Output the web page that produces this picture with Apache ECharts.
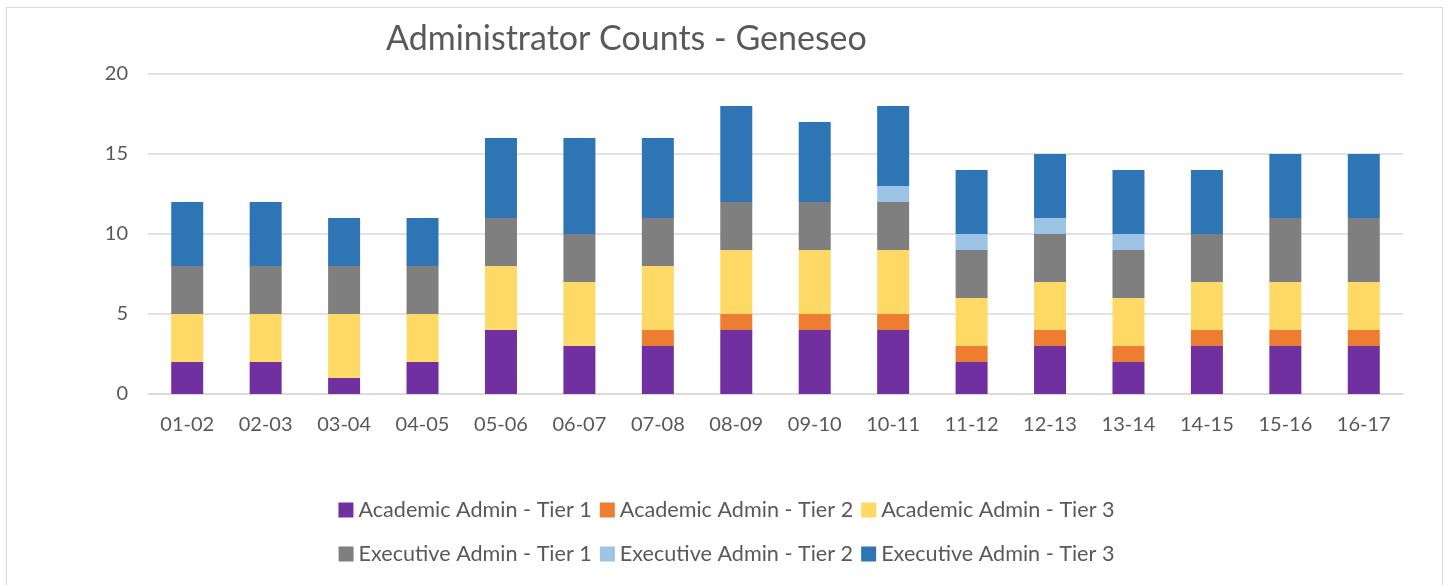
<!DOCTYPE html>
<html>
<head>
<meta charset="utf-8">
<script src="https://cdn.jsdelivr.net/npm/echarts@6/dist/echarts.min.js"></script>
<style>
  html, body { margin: 0; padding: 0; background: #fff; }
  #frame { position: absolute; left: 6px; top: 7px; width: 1437px; height: 590px; border: 1px solid #d9d9d9; box-sizing: border-box; }
  #container { width: 1453px; height: 585px; }
</style>
</head>
<body>
<div id="frame"></div>
<div id="container"></div>
<script>
// 年度
var years = ['01-02', '02-03', '03-04', '04-05', '05-06', '06-07', '07-08', '08-09',
             '09-10', '10-11', '11-12', '12-13', '13-14', '14-15', '15-16', '16-17'];
var academicTier1 = [2, 2, 1, 2, 4, 3, 3, 4, 4, 4, 2, 3, 2, 3, 3, 3];
var academicTier2 = [0, 0, 0, 0, 0, 0, 1, 1, 1, 1, 1, 1, 1, 1, 1, 1];
var academicTier3 = [3, 3, 4, 3, 4, 4, 4, 4, 4, 4, 3, 3, 3, 3, 3, 3];
var executiveTier1 = [3, 3, 3, 3, 3, 3, 3, 3, 3, 3, 3, 3, 3, 3, 4, 4];
var executiveTier2 = [0, 0, 0, 0, 0, 0, 0, 0, 0, 1, 1, 1, 1, 0, 0, 0];
var executiveTier3 = [4, 4, 3, 3, 5, 6, 5, 6, 5, 5, 4, 4, 4, 4, 4, 4];
var yTicks = [0, 5, 10, 15, 20];

var seriesNames = ['Academic Admin - Tier 1', 'Academic Admin - Tier 2', 'Academic Admin - Tier 3',
                   'Executive Admin - Tier 1', 'Executive Admin - Tier 2', 'Executive Admin - Tier 3'];
var seriesData = [academicTier1, academicTier2, academicTier3, executiveTier1, executiveTier2, executiveTier3];
var colors = ['#7030a0', '#ed7d31', '#ffd966', '#7f7f7f', '#9dc3e6', '#2e75b6'];

var font = 'Lato, "Open Sans", sans-serif';

var myChart = echarts.init(document.getElementById('container'));
var option = {
    animation: false,
    color: colors,
    title: {
        text: 'Administrator Counts - Geneseo',
        left: 381,
        top: 17,
        textStyle: { color: '#595959', fontSize: 34, fontWeight: 'normal', fontFamily: font }
    },
    legend: [
        {
            data: seriesNames.slice(0, 3),
            left: 'center',
            top: 494,
            itemWidth: 15,
            itemHeight: 15,
            itemGap: 8,
            icon: 'rect',
            textStyle: { color: '#595959', fontSize: 21.6, fontFamily: font }
        },
        {
            data: seriesNames.slice(3),
            left: 'center',
            top: 538,
            itemWidth: 15,
            itemHeight: 15,
            itemGap: 8,
            icon: 'rect',
            textStyle: { color: '#595959', fontSize: 21.6, fontFamily: font }
        }
    ],
    grid: {
        left: 148,
        right: 50,
        top: 74,
        bottom: 191,
        containLabel: false
    },
    xAxis: {
        type: 'category',
        data: years,
        axisTick: { show: false },
        axisLine: { lineStyle: { color: '#d9d9d9', width: 1.5 } },
        axisLabel: { color: '#595959', fontSize: 20, fontFamily: font, margin: 21 }
    },
    yAxis: {
        type: 'value',
        min: yTicks[0],
        max: yTicks[yTicks.length - 1],
        interval: 5,
        axisLine: { show: false },
        axisTick: { show: false },
        splitLine: { lineStyle: { color: '#d9d9d9', width: 1.5 } },
        axisLabel: { color: '#595959', fontSize: 20, fontFamily: font, margin: 20 }
    },
    series: seriesNames.map(function (name, i) {
        return {
            name: name,
            type: 'bar',
            stack: 'total',
            barWidth: 32,
            data: seriesData[i],
            itemStyle: { color: colors[i] }
        };
    })
};
myChart.setOption(option);
</script>
</body>
</html>
